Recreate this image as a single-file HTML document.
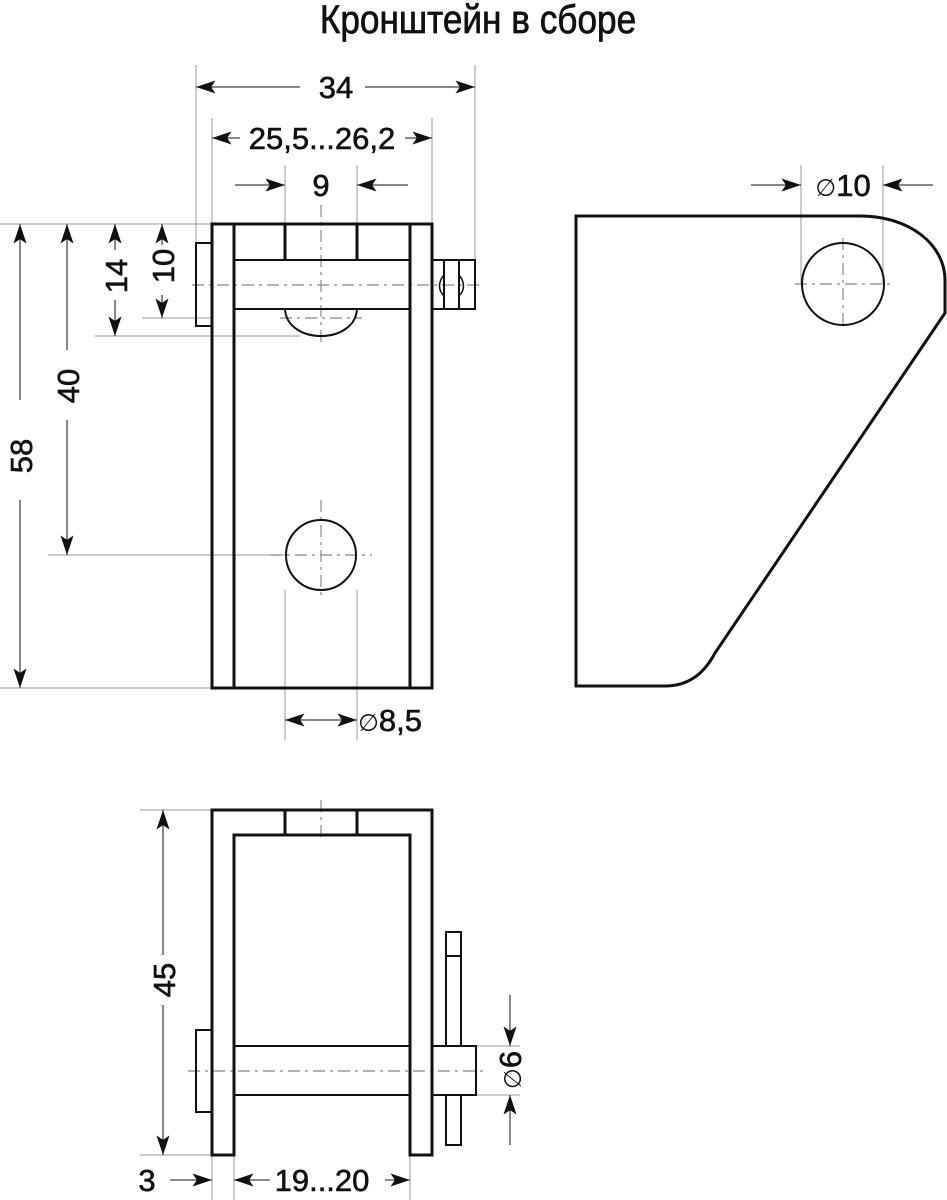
<!DOCTYPE html>
<html><head><meta charset="utf-8"><style>body{margin:0;background:#fff}svg{display:block}</style></head><body>
<svg width="947" height="1200" viewBox="0 0 947 1200" xmlns="http://www.w3.org/2000/svg" font-family="Liberation Sans, DejaVu Sans, sans-serif">
<defs>
<marker id="a" viewBox="0 0 18 12" refX="18" refY="6" markerWidth="20" markerHeight="13" markerUnits="userSpaceOnUse" orient="auto"><path d="M0,0 L18,6 L0,12 L4,6 Z" fill="#111"/></marker>
</defs>
<text x="478" y="33" font-size="40" text-anchor="middle" fill="#111" stroke="#111" stroke-width="0.7" transform="translate(478,0) scale(0.88,1) translate(-478,0)">Кронштейн в сборе</text>
<g stroke="#999" stroke-width="1" fill="none">
<line x1="196" y1="65" x2="196" y2="243"/><line x1="475" y1="65" x2="475" y2="260"/>
<line x1="212" y1="118" x2="212" y2="224"/><line x1="432" y1="118" x2="432" y2="224"/>
<line x1="285" y1="165" x2="285" y2="224"/><line x1="357" y1="165" x2="357" y2="224"/>
<line x1="0" y1="224" x2="212" y2="224"/><line x1="95" y1="336" x2="300" y2="336"/>
<line x1="142" y1="318" x2="212" y2="318"/>
<line x1="48" y1="555" x2="290" y2="555"/><line x1="0" y1="688" x2="212" y2="688"/>
<line x1="285" y1="590" x2="285" y2="740"/><line x1="357" y1="590" x2="357" y2="740"/>
<line x1="801" y1="165" x2="801" y2="284"/><line x1="883" y1="165" x2="883" y2="284"/>
<line x1="140" y1="810" x2="212" y2="810"/><line x1="140" y1="1155" x2="212" y2="1155"/>
<line x1="212" y1="1155" x2="212" y2="1200"/><line x1="234" y1="1155" x2="234" y2="1200"/><line x1="410" y1="1155" x2="410" y2="1200"/>
<line x1="476" y1="1046" x2="520" y2="1046"/><line x1="476" y1="1095" x2="520" y2="1095"/>
</g>
<g stroke="#111" stroke-width="1" fill="none">
<line x1="300" y1="87" x2="196" y2="87" marker-end="url(#a)"/>
<line x1="365" y1="87" x2="475" y2="87" marker-end="url(#a)"/>
<line x1="240" y1="138" x2="212" y2="138" marker-end="url(#a)"/><line x1="405" y1="138" x2="432" y2="138" marker-end="url(#a)"/>
<line x1="235" y1="185" x2="285" y2="185" marker-end="url(#a)"/><line x1="408" y1="185" x2="357" y2="185" marker-end="url(#a)"/>
<line x1="20" y1="400" x2="20" y2="224" marker-end="url(#a)"/><line x1="20" y1="500" x2="20" y2="688" marker-end="url(#a)"/>
<line x1="67" y1="350" x2="67" y2="224" marker-end="url(#a)"/><line x1="67" y1="420" x2="67" y2="555" marker-end="url(#a)"/>
<line x1="115" y1="250" x2="115" y2="224" marker-end="url(#a)"/><line x1="115" y1="300" x2="115" y2="336" marker-end="url(#a)"/>
<line x1="162" y1="245" x2="162" y2="224" marker-end="url(#a)"/><line x1="162" y1="295" x2="162" y2="318" marker-end="url(#a)"/>
<line x1="321" y1="720" x2="285" y2="720" marker-end="url(#a)"/><line x1="321" y1="720" x2="357" y2="720" marker-end="url(#a)"/>
<line x1="751" y1="185" x2="801" y2="185" marker-end="url(#a)"/><line x1="933" y1="185" x2="883" y2="185" marker-end="url(#a)"/>
<line x1="163" y1="955" x2="163" y2="810" marker-end="url(#a)"/><line x1="163" y1="1005" x2="163" y2="1155" marker-end="url(#a)"/>
<line x1="170" y1="1180" x2="212" y2="1180" marker-end="url(#a)"/>
<line x1="270" y1="1180" x2="234" y2="1180" marker-end="url(#a)"/><line x1="385" y1="1180" x2="410" y2="1180" marker-end="url(#a)"/>
<line x1="510" y1="995" x2="510" y2="1046" marker-end="url(#a)"/><line x1="510" y1="1145" x2="510" y2="1095" marker-end="url(#a)"/>
</g>
<g fill="#111" stroke="#111" stroke-width="0.6" font-size="31">
<text x="336" y="98" text-anchor="middle">34</text>
<text x="322" y="149" text-anchor="middle">25,5...26,2</text>
<text x="321" y="196" text-anchor="middle">9</text>
<text x="843" y="196" text-anchor="middle"><tspan font-size="24" stroke-width="0">∅</tspan>10</text>
<text x="390" y="731" text-anchor="middle"><tspan font-size="24" stroke-width="0">∅</tspan>8,5</text>
<text x="322" y="1191" text-anchor="middle">19...20</text>
<text x="147" y="1191" text-anchor="middle">3</text>
<text transform="translate(32,456) rotate(-90)" text-anchor="middle">58</text>
<text transform="translate(79,386) rotate(-90)" text-anchor="middle">40</text>
<text transform="translate(127,276) rotate(-90)" text-anchor="middle">14</text>
<text transform="translate(174,266) rotate(-90)" text-anchor="middle">10</text>
<text transform="translate(175,980) rotate(-90)" text-anchor="middle">45</text>
<text transform="translate(521,1070) rotate(-90)" text-anchor="middle"><tspan font-size="24" stroke-width="0">∅</tspan>6</text>
</g>
<g stroke="#888" stroke-width="1.2" stroke-dasharray="12,5,3,5" fill="none">
<line x1="192" y1="285" x2="482" y2="285"/><line x1="321" y1="205" x2="321" y2="345"/>
<line x1="280" y1="318" x2="362" y2="318"/>
<line x1="270" y1="555" x2="372" y2="555"/><line x1="321" y1="500" x2="321" y2="600"/>
<line x1="795" y1="284" x2="890" y2="284"/><line x1="843" y1="238" x2="843" y2="330"/>
<line x1="321" y1="800" x2="321" y2="840"/>
<line x1="188" y1="1071" x2="486" y2="1071"/>
</g>
<g stroke="#111" stroke-width="3" fill="none">
<rect x="212" y="224" width="220" height="464"/>
<line x1="234" y1="224" x2="234" y2="688"/><line x1="410" y1="224" x2="410" y2="688"/>
<line x1="285" y1="224" x2="285" y2="260"/><line x1="357" y1="224" x2="357" y2="260"/>
<rect x="234" y="260" width="176" height="49" stroke-width="2"/>
<rect x="196" y="243" width="16" height="83" stroke-width="2"/>
<path d="M285,309 C287,345 355,345 357,309" stroke-width="2"/>
<rect x="432" y="260" width="43" height="49" stroke-width="2"/>
<line x1="444" y1="260" x2="444" y2="309" stroke-width="2"/><line x1="459" y1="260" x2="459" y2="309" stroke-width="2"/>
<path d="M444,275 C438,282 438,290 444,296 M459,275 C465,282 465,290 459,296" stroke-width="1.5"/>
<circle cx="321" cy="555" r="35" stroke-width="2"/>
<path d="M576,216 L860,216 C910,216 945,245 945,280 L945,313 L715,653 C705,672 690,686 665,686 L576,686 Z"/>
<circle cx="843" cy="284" r="41" stroke-width="2"/>
<path d="M212,1155 L212,810 L432,810 L432,1155 L410,1155 L410,835 L234,835 L234,1155 Z"/>
<line x1="285" y1="810" x2="285" y2="835"/><line x1="357" y1="810" x2="357" y2="835"/>
<rect x="234" y="1046" width="176" height="49" stroke-width="2"/>
<rect x="432" y="1046" width="44" height="49" stroke-width="2"/>
<rect x="196" y="1030" width="16" height="82" stroke-width="2"/>
<rect x="446" y="932" width="15" height="114" stroke-width="2"/>
<rect x="446" y="1095" width="15" height="50" stroke-width="2"/>
<line x1="446" y1="956" x2="461" y2="956" stroke-width="2"/>
</g>
</svg>
</body></html>
